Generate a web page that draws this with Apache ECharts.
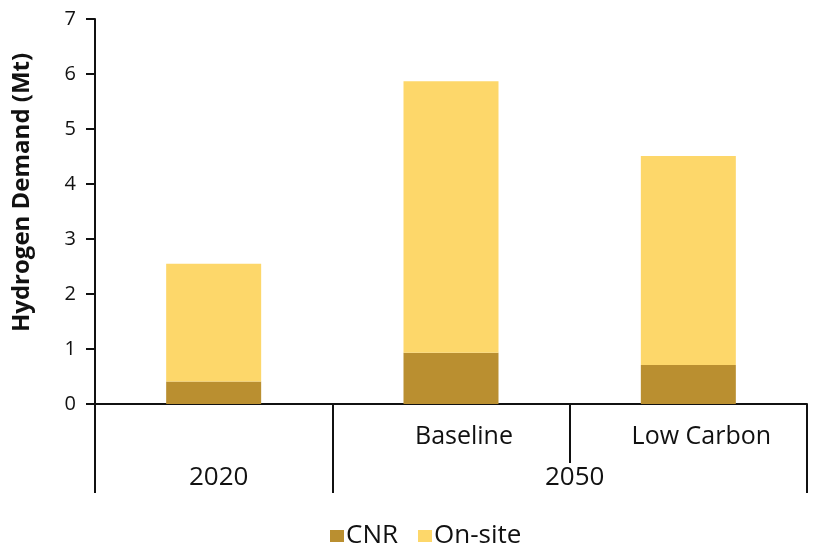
<!DOCTYPE html>
<html>
<head>
<meta charset="utf-8">
<script src="https://cdn.jsdelivr.net/npm/echarts@6/dist/echarts.min.js"></script>
<style>
  html, body { margin: 0; padding: 0; background: #fff; }
  #chart { width: 817px; height: 546px; }
</style>
</head>
<body>
<div id="chart"></div>
<script>
// Hydrogen demand by scenario, stacked by supply type (Mt)
const scenarios = ['', 'Baseline', 'Low Carbon'];
const groupSlots = ['', '2020', '', '', '2050', '', ''];
const groupBoundaries = [0, 2, 6];
const cnr = [0.41, 0.93, 0.71];
const onSite = [2.14, 4.94, 3.80];
const yTicks = [0, 1, 2, 3, 4, 5, 6, 7];

const FONT = '"Open Sans", "Liberation Sans", sans-serif';
const INK = '#111111';

const chart = echarts.init(document.getElementById('chart'), null, { renderer: 'canvas' });

chart.setOption({
  backgroundColor: '#ffffff',
  animation: false,
  grid: { left: 95, right: 10, top: 19, bottom: 142, containLabel: false },
  legend: {
    data: ['CNR', 'On-site'],
    left: 325,
    top: 518,
    icon: 'rect',
    itemWidth: 14,
    itemHeight: 12,
    itemGap: 20,
    textStyle: { fontFamily: FONT, fontSize: 26, color: INK, padding: [0, 0, 0, -3] }
  },
  xAxis: [
    {
      type: 'category',
      data: scenarios,
      position: 'bottom',
      axisLine: { show: true, lineStyle: { color: INK, width: 2 } },
      axisTick: { show: true, interval: 0, length: 59, lineStyle: { color: INK, width: 2 } },
      axisLabel: {
        interval: 0, margin: 20, fontFamily: FONT, fontSize: 25, color: INK,
        padding: [0, 0, 0, 26]
      },
      splitLine: { show: false }
    },
    {
      type: 'category',
      data: groupSlots,
      position: 'bottom',
      boundaryGap: false,
      axisLine: { show: false },
      axisTick: {
        show: true,
        interval: (i) => groupBoundaries.indexOf(i) !== -1,
        length: 89,
        lineStyle: { color: INK, width: 2 }
      },
      axisLabel: {
        interval: 0, margin: 61, fontFamily: FONT, fontSize: 26, color: INK,
        padding: [0, 0, 0, 10]
      },
      splitLine: { show: false }
    }
  ],
  yAxis: {
    type: 'value',
    min: yTicks[0],
    max: yTicks[yTicks.length - 1],
    interval: 1,
    name: 'Hydrogen Demand (Mt)',
    nameLocation: 'middle',
    nameGap: 61,
    nameRotate: 90,
    nameTextStyle: {
      fontFamily: FONT, fontSize: 24, fontWeight: 'bold', color: INK,
      padding: [0, 0, 0, 38]
    },
    axisLine: { show: true, lineStyle: { color: INK, width: 2 } },
    axisTick: { show: true, length: 9, lineStyle: { color: INK, width: 2 } },
    axisLabel: { margin: 19, fontFamily: FONT, fontSize: 20, color: INK },
    splitLine: { show: false }
  },
  series: [
    {
      name: 'CNR',
      type: 'bar',
      stack: 'demand',
      xAxisIndex: 0,
      barWidth: 95,
      data: cnr,
      itemStyle: { color: '#BA8F30' }
    },
    {
      name: 'On-site',
      type: 'bar',
      stack: 'demand',
      xAxisIndex: 0,
      barWidth: 95,
      data: onSite,
      itemStyle: { color: '#FDD76A' }
    }
  ]
});
</script>
</body>
</html>
